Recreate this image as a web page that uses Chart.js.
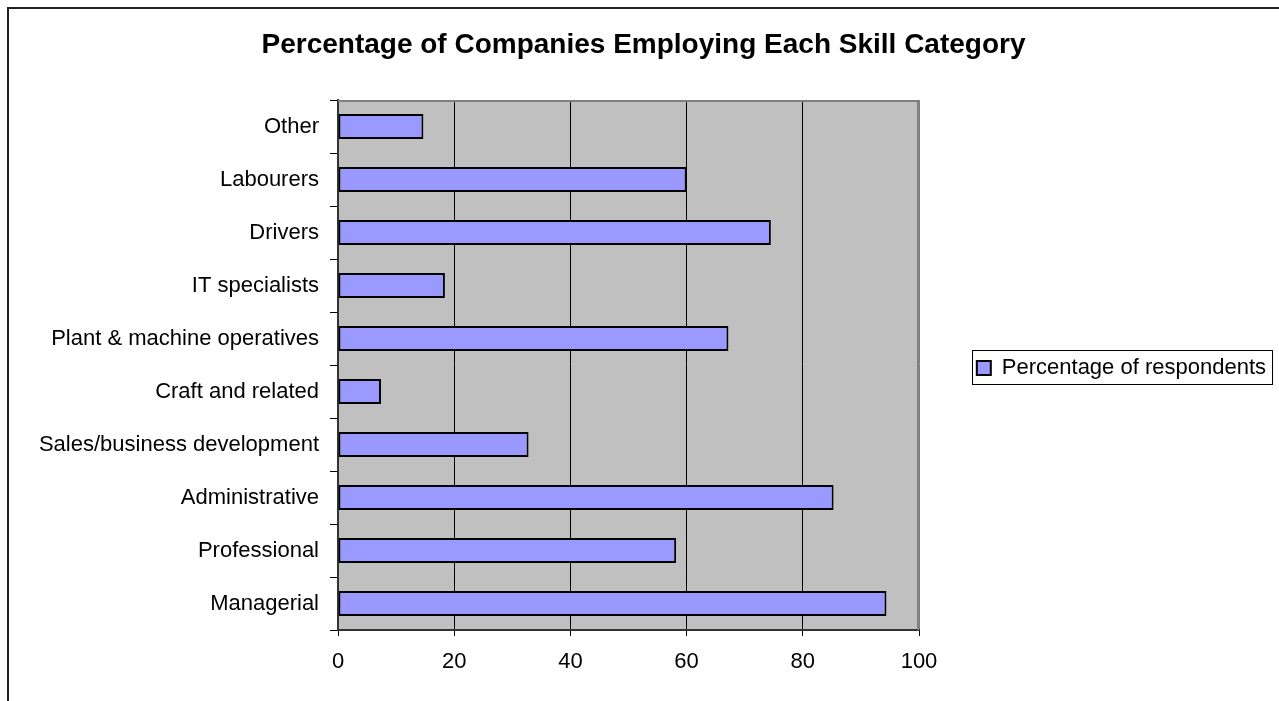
<!DOCTYPE html>
<html>
<head>
<meta charset="utf-8">
<title>Skill categories</title>
<script src="https://cdn.jsdelivr.net/npm/chart.js@4.4.1/dist/chart.umd.min.js"></script>
<style>
  html, body { margin: 0; padding: 0; background: #fff; }
  #wrap { width: 1279px; height: 701px; }
</style>
</head>
<body>
<div id="wrap"><canvas id="skillChart" width="1279" height="701"></canvas></div>
<script>
// survey results, bottom-to-top order as listed in the sheet
const categories = [
    'Managerial',
    'Professional',
    'Administrative',
    'Sales/business development',
    'Craft and related',
    'Plant & machine operatives',
    'IT specialists',
    'Drivers',
    'Labourers',
    'Other'
];
const respondentsPct = [94.4, 58.2, 85.3, 32.8, 7.4, 67.2, 18.4, 74.5, 60.0, 14.7];
const xTicks = [0, 20, 40, 60, 80, 100];

const seriesName = 'Percentage of respondents';
const chartTitle = 'Percentage of Companies Employing Each Skill Category';

const FONT = "'Liberation Sans', Arial, sans-serif";
Chart.defaults.font.family = FONT;
Chart.defaults.color = '#000';

// legend sits in a fixed strip right of the plot; pad the item so it ends near the right edge
const LEGEND_W = 357;
const BOX_W = 14;
const measure = document.createElement('canvas').getContext('2d');
measure.font = '22px ' + FONT;
const legendItemW = BOX_W + 11 + measure.measureText(seriesName).width;
const legendPad = Math.max(10, LEGEND_W - 10 - legendItemW);

// page frame, grey plot area and the box round the legend
const framePlugin = {
    id: 'frame',
    afterLayout(chart) {
        // nudge the legend a little lower
        chart.legend.top += 3;
        chart.legend.bottom += 3;
    },
    beforeDraw(chart) {
        const ctx = chart.ctx;
        const a = chart.chartArea;
        ctx.save();
        ctx.fillStyle = '#fff';
        ctx.fillRect(0, 0, chart.width, chart.height);
        ctx.strokeStyle = '#222';
        ctx.lineWidth = 2;
        ctx.beginPath();
        ctx.moveTo(8, chart.height + 5);
        ctx.lineTo(8, 8);
        ctx.lineTo(chart.width + 5, 8);
        ctx.stroke();
        ctx.fillStyle = '#c0c0c0';
        ctx.fillRect(a.left, a.top, a.right - a.left, a.bottom - a.top);
        ctx.restore();
    },
    beforeDatasetsDraw(chart) {
        const ctx = chart.ctx;
        const a = chart.chartArea;
        ctx.save();
        ctx.strokeStyle = '#808080';
        ctx.lineWidth = 2;
        ctx.beginPath();
        ctx.moveTo(a.left, a.top + 1);
        ctx.lineTo(a.right - 1, a.top + 1);
        ctx.lineTo(a.right - 1, a.bottom);
        ctx.stroke();
        ctx.restore();
    },
    afterDraw(chart) {
        const hb = chart.legend.legendHitBoxes[0];
        if (!hb) return;
        const ctx = chart.ctx;
        ctx.save();
        ctx.strokeStyle = '#000';
        ctx.lineWidth = 1;
        ctx.strokeRect(Math.round(hb.left) - 4.5, Math.round(hb.top) - 6.5,
            Math.round(hb.width) + 11, Math.round(hb.height) + 12);
        ctx.restore();
    }
};

new Chart(document.getElementById('skillChart'), {
    type: 'bar',
    data: {
        labels: categories,
        datasets: [{
            label: seriesName,
            data: respondentsPct,
            backgroundColor: '#9999ff',
            borderColor: '#000',
            borderWidth: 2,
            borderSkipped: false,
            barPercentage: 0.47,
            categoryPercentage: 1
        }]
    },
    options: {
        indexAxis: 'y',
        responsive: false,
        animation: false,
        layout: { padding: { left: 11, right: 3, top: 0, bottom: 0 } },
        scales: {
            x: {
                min: 0,
                max: 100,
                afterBuildTicks: (scale) => { scale.ticks = xTicks.map(v => ({ value: v })); },
                afterFit: (scale) => { scale.height = 71; },
                grid: {
                    color: (c) => (c.tick && c.tick.value === 100 ? '#808080' : '#000'),
                    tickColor: '#000',
                    tickLength: 6,
                    lineWidth: 1
                },
                border: { color: '#333', width: 2 },
                ticks: { font: { size: 22 }, padding: 13, color: '#000' }
            },
            y: {
                reverse: true,
                afterFit: (scale) => { scale.width = 327; },
                grid: {
                    offset: true,
                    drawOnChartArea: false,
                    tickLength: 8,
                    tickColor: '#000'
                },
                border: { color: '#333', width: 2 },
                ticks: { font: { size: 22 }, padding: 11, color: '#000' }
            }
        },
        plugins: {
            title: {
                display: true,
                text: chartTitle,
                color: '#000',
                font: { size: 28, weight: 'bold' },
                padding: { top: 28, bottom: 38.4 }
            },
            legend: {
                position: 'right',
                fullSize: false,
                maxWidth: LEGEND_W,
                labels: {
                    font: { size: 22 },
                    color: '#000',
                    boxWidth: BOX_W,
                    boxHeight: 14,
                    padding: legendPad
                }
            },
            tooltip: { enabled: false }
        }
    },
    plugins: [framePlugin]
});
</script>
</body>
</html>
